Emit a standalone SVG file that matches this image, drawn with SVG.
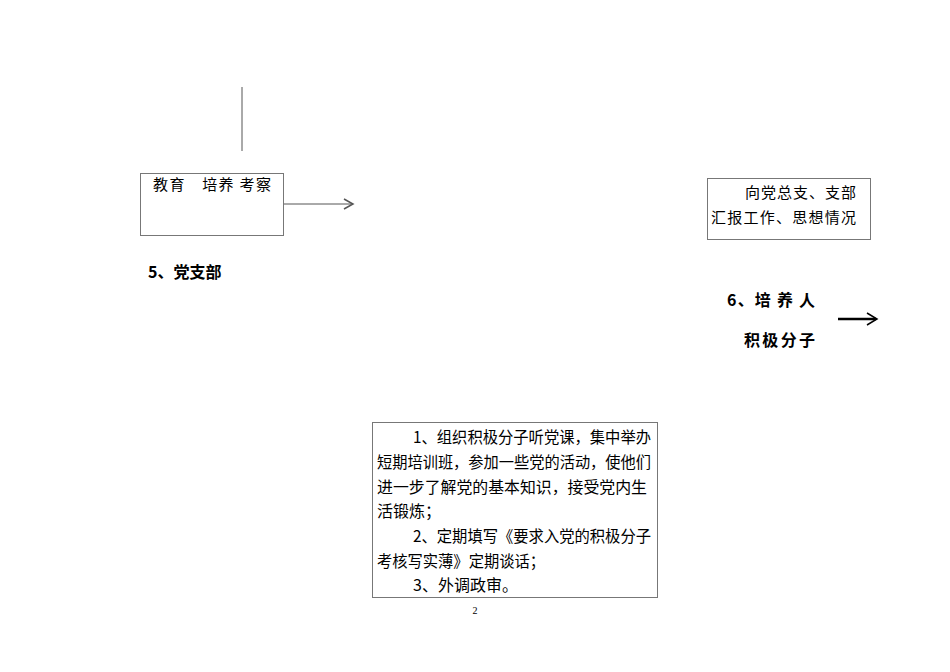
<svg xmlns="http://www.w3.org/2000/svg" width="950" height="672" viewBox="0 0 950 672">
<style>
text{font-family:"Noto Sans CJK SC","Liberation Sans",sans-serif;fill:#000}
.b{fill:#fff;stroke:#777;stroke-width:1}
.t{font-size:15px}
.h{font-size:16px;font-weight:bold}
.ln{stroke:#555;fill:none}
</style>
<rect width="950" height="672" fill="#fff"/>
<g id="connectors">
<line class="ln" x1="242" y1="87" x2="242" y2="151"/>
<line class="ln" x1="283" y1="204" x2="352" y2="204"/>
<polyline class="ln" points="344,199 353,204 344,209" stroke="#000" stroke-width="1.5"/>
<line x1="838" y1="319" x2="876" y2="319" stroke="#000" stroke-width="2.5"/>
<polyline points="867,313 877,319 867,325" fill="none" stroke="#000" stroke-width="1.5"/>
</g>
<g id="n1">
<rect class="b" x="140.5" y="173.5" width="143" height="62"/>
<text class="t" x="153" y="190" textLength="118" lengthAdjust="spacing">教育　培养 考察</text>
</g>
<g id="n2"><text class="h" x="148" y="278">5、党支部</text></g>
<g id="n3">
<rect class="b" x="707.5" y="178.5" width="163" height="61"/>
<text class="t" x="745" y="198" textLength="111" lengthAdjust="spacing">向党总支、支部</text>
<text class="t" x="711" y="223" textLength="145" lengthAdjust="spacing">汇报工作、思想情况</text>
</g>
<g id="n4">
<text class="h" x="727" y="306" textLength="88" lengthAdjust="spacing">6、培 养 人</text>
<text class="h" x="744" y="346" textLength="71" lengthAdjust="spacing">积极分子</text>
</g>
<g id="n5">
<rect class="b" x="372.5" y="422.5" width="285" height="175"/>
<g style="font-size:16px">
<text x="413" y="443" textLength="238" lengthAdjust="spacingAndGlyphs">1、组织积极分子听党课，集中举办</text>
<text x="377" y="468" textLength="274" lengthAdjust="spacingAndGlyphs">短期培训班，参加一些党的活动，使他们</text>
<text x="377" y="493" textLength="270" lengthAdjust="spacingAndGlyphs">进一步了解党的基本知识，接受党内生</text>
<text x="377" y="517">活锻炼；</text>
<text x="413" y="542" textLength="238" lengthAdjust="spacingAndGlyphs">2、定期填写《要求入党的积极分子</text>
<text x="377" y="567" textLength="168" lengthAdjust="spacingAndGlyphs">考核写实薄》定期谈话；</text>
<text x="413" y="591">3、外调政审。</text>
</g>
</g>
<text x="475" y="614" font-size="10" text-anchor="middle" style="font-family:'Liberation Serif',serif">2</text>
</svg>
